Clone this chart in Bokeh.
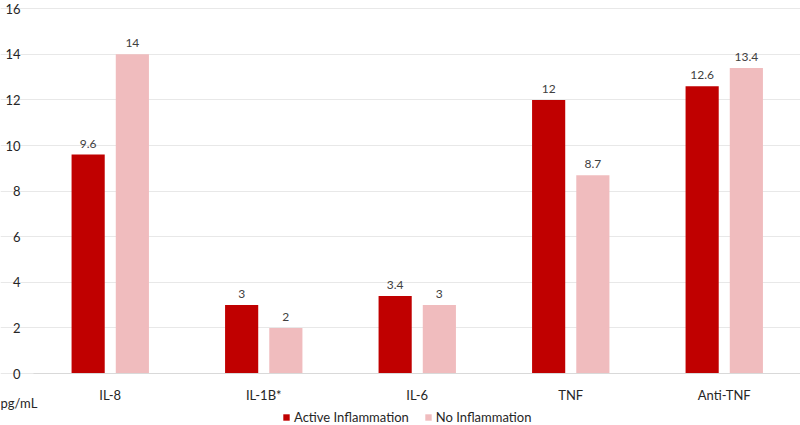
from bokeh.plotting import figure
from bokeh.models import (ColumnDataSource, Range1d, LabelSet, Legend, LegendItem, Label,
                          FixedTicker)
from bokeh.core.properties import value
from bokeh.embed import file_html
from bokeh.resources import INLINE

categories = ["IL-8", "IL-1B*", "IL-6", "TNF", "Anti-TNF"]
active = [9.6, 3, 3.4, 12, 12.6]
none_ = [14, 2, 3, 8.7, 13.4]
series_names = ["Active Inflammation", "No Inflammation"]
y_ticks = [0, 2, 4, 6, 8, 10, 12, 14, 16]
unit_label = "pg/mL"

FONT = "Lato"
C_ACT = "#C00000"
C_NO = "#F0BCBE"
OFF = 0.144
BW = 0.216

centers = [i + 0.5 for i in range(len(categories))]
src = ColumnDataSource(dict(
    xa=[c - OFF for c in centers], xn=[c + OFF for c in centers],
    act=active, no=none_,
    act_lbl=[("%g" % v) for v in active],
    no_lbl=[("%g" % v) for v in none_],
))

W, H = 800, 425
PX = 153.5       # pixels per category
LEFT = 33.0      # frame-left of category area
PY = 22.8        # pixels per y unit
ZERO = 373.0     # pixel row of y=0
x0 = -LEFT / PX
x1 = x0 + W / PX
y0 = -(H - ZERO) / PY
y1 = y0 + H / PY

p = figure(x_range=Range1d(x0, x1), y_range=Range1d(y0, y1),
           width=W, height=H, output_backend="svg", toolbar_location=None,
           min_border_left=0, min_border_right=0, min_border_top=0, min_border_bottom=0)
p.outline_line_color = None
p.background_fill_color = "white"

r1 = p.vbar(x="xa", top="act", bottom=0, width=BW, source=src, fill_color=C_ACT, line_color=None)
r2 = p.vbar(x="xn", top="no", bottom=0, width=BW, source=src, fill_color=C_NO, line_color=None)

for xcol, col, lab in [("xa", "act", "act_lbl"), ("xn", "no", "no_lbl")]:
    ls = LabelSet(x=xcol, y=col, text=lab, source=src,
                  text_align="center", text_baseline="bottom", y_offset=7,
                  text_font=value(FONT), text_font_size="12px", text_color="#404040")
    p.add_layout(ls)

# y axis
p.yaxis.fixed_location = 0
p.yaxis.ticker = FixedTicker(ticks=y_ticks)
p.yaxis.bounds = (0, 16)
p.yaxis.axis_line_color = None
p.yaxis.major_tick_line_color = None
p.yaxis.minor_tick_line_color = None
p.yaxis.major_tick_out = 0
p.yaxis.major_tick_in = 0
p.yaxis.major_label_standoff = 13
p.yaxis.major_label_text_font = FONT
p.yaxis.major_label_text_font_size = "13px"
p.yaxis.major_label_text_color = "#262626"

# x axis
p.xaxis.fixed_location = 0
p.xaxis.ticker = FixedTicker(ticks=centers)
p.xaxis.major_label_overrides = {c: name for c, name in zip(centers, categories)}
p.xaxis.bounds = (0, len(categories) + 0.1)
p.xaxis.axis_line_color = "#D9D9D9"
p.xaxis.major_tick_line_color = None
p.xaxis.minor_tick_line_color = None
p.xaxis.major_tick_out = 0
p.xaxis.major_tick_in = 0
p.xaxis.major_label_standoff = 13
p.xaxis.major_label_text_font = FONT
p.xaxis.major_label_text_font_size = "13px"
p.xaxis.major_label_text_color = "#262626"

p.xgrid.grid_line_color = None
p.ygrid.grid_line_color = "#E8E8E8"
p.ygrid.bounds = (0, len(categories) + 0.1)

legend = Legend(items=[LegendItem(label=series_names[0], renderers=[r1]),
                       LegendItem(label=series_names[1], renderers=[r2])],
                orientation="horizontal", location=(282, 0),
                padding=0, margin=0, spacing=15, glyph_width=8, glyph_height=8,
                label_height=14, label_standoff=4, label_text_font=FONT,
                label_text_font_size="13px", label_text_color="#262626",
                background_fill_alpha=0, border_line_color=None)
p.add_layout(legend, "center")

unit = Label(x=0, y=H - 402, x_units="screen", y_units="screen", text=unit_label,
             text_font=FONT, text_font_size="13px", text_color="#262626",
             text_baseline="middle", text_align="left")
p.add_layout(unit)

open("out.html", "w").write(file_html(p, INLINE))
